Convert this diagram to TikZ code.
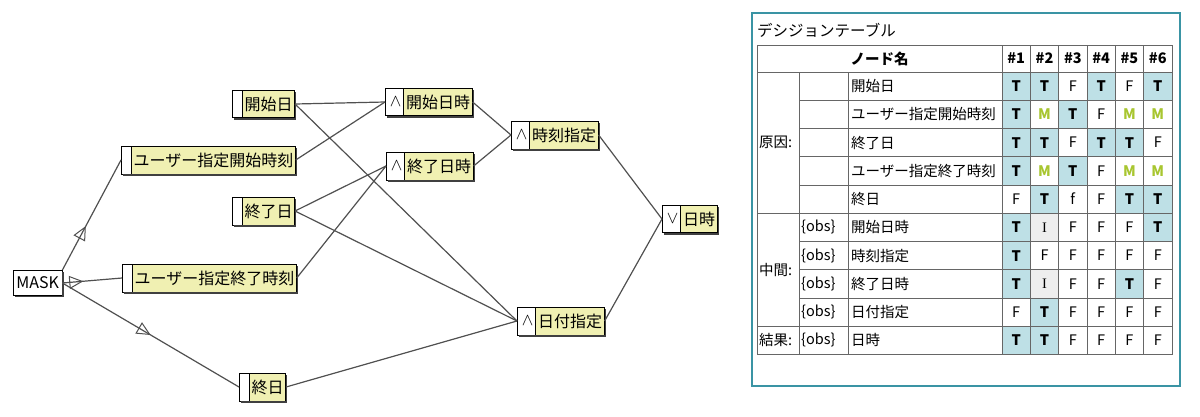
\documentclass[tikz,border=0pt]{standalone}
\usepackage{fontspec}
\setmainfont{Noto Sans CJK JP}
\setsansfont{Noto Sans CJK JP}
\newfontfamily\serifI{Liberation Serif}
\usetikzlibrary{shapes.multipart,decorations.markings,arrows.meta}

\definecolor{nodeyellow}{RGB}{240,240,178}
\definecolor{wiregray}{RGB}{80,80,80}
\definecolor{celltrue}{RGB}{190,224,230}
\definecolor{cellind}{RGB}{238,238,238}
\definecolor{maskgreen}{RGB}{168,198,48}
\definecolor{frameteal}{RGB}{58,148,164}

\newcommand\nodefont{\fontsize{16}{18}\selectfont}
\newcommand\tabfont{\fontsize{14.5}{16}\selectfont}

\def\colw{28.33}
\def\rowh{28.25}

% dark edge along the bottom and right of a box
\newcommand\boxshadow[1]{%
	\draw[shade line] ([xshift=2pt,yshift=-0.6pt]#1.south west) -- ([xshift=0.6pt,yshift=-0.6pt]#1.south east) -- ([xshift=0.6pt,yshift=-2pt]#1.north east);}

% one table cell per value code
\newcommand\cellT[2]{%
	\fill[celltrue] ({1002+(#1-1)*\colw},{72+(#2-1)*\rowh}) rectangle ++(\colw,\rowh);
	\node[val, font=\tabfont\bfseries] at ({1002+(#1-0.5)*\colw},{72+(#2-0.5)*\rowh}) {T};}
\newcommand\cellF[2]{%
	\node[val] at ({1002+(#1-0.5)*\colw},{72+(#2-0.5)*\rowh}) {F};}
\newcommand\cellf[2]{%
	\node[val] at ({1002+(#1-0.5)*\colw},{72+(#2-0.5)*\rowh}) {f};}
\newcommand\cellM[2]{%
	\node[val, text=maskgreen, font=\tabfont\bfseries] at ({1002+(#1-0.5)*\colw},{72+(#2-0.5)*\rowh}) {M};}
\newcommand\cellI[2]{%
	\fill[cellind] ({1002+(#1-1)*\colw},{72+(#2-1)*\rowh}) rectangle ++(\colw,\rowh);
	\node[val, font=\tabfont\serifI] at ({1002+(#1-0.5)*\colw},{72+(#2-0.5)*\rowh}) {I};}

\begin{document}
\begin{tikzpicture}[x=1pt,y=-1pt]
	\tikzstyle{box}=[draw=black, line width=0.8pt, inner xsep=2pt, inner ysep=6.5pt, font=\nodefont]
	\tikzstyle{split box}=[box, anchor=west, rectangle split, rectangle split horizontal, rectangle split parts=2, rectangle split part fill={white,nodeyellow}]
	\tikzstyle{cause}=[split box]
	\tikzstyle{gate}=[split box]
	\tikzstyle{mask node}=[box, fill=white, anchor=west, inner xsep=3pt]
	\tikzstyle{shade line}=[draw=black!75, line width=1.4pt]
	\tikzstyle{wire}=[draw=wiregray, line width=1.2pt]
	\tikzset{mask edge/.style={wire, postaction={decorate}, decoration={markings, mark=at position #1 with {\arrow[wiregray, line width=1pt]{Triangle[open, length=14pt, width=13pt]}}}}}
	\tikzstyle{grid}=[draw=black!60, line width=0.8pt]
	\tikzstyle{val}=[inner sep=0pt, font=\tabfont]
	\tikzstyle{cell text}=[inner sep=0pt, font=\tabfont, anchor=west]
	
	\useasboundingbox (0,0) rectangle (1200,416);
	
	% Draw the mask node
	\node[mask node] (mask) at (13,283) {MASK};
	
	% Draw the cause nodes
	\foreach \y/\x/\t [count=\n] in {104/232/開始日, 160/121/ユーザー指定開始時刻, 211/232/終了日, 278/122/ユーザー指定終了時刻, 387/239/終日}
	\node[cause] (C-\n) at (\x,\y) {\hspace{3.5pt}\nodepart{two}\t};
	
	% Draw the and/or nodes
	\foreach \y/\x/\t [count=\n] in {102/385/開始日時, 166/386/終了日時, 135/511/時刻指定, 321/517/日付指定}
	\node[gate] (G-\n) at (\x,\y) {\hspace{2.5pt}$\wedge$\hspace{2.5pt}\nodepart{two}\t};
	\node[gate] (G-5) at (662,219) {\hspace{2.5pt}$\vee$\hspace{2.5pt}\nodepart{two}日時};
	
	% Shadows of all boxes
	\boxshadow{mask}
	\foreach \n in {1,...,5}{
		\boxshadow{C-\n}
		\boxshadow{G-\n}
	}
	
	% Connect the mask to its three causes
	\draw[mask edge=0.4] (mask.north east) -- (C-2.west);
	\draw[mask edge=0.35] (mask.east) -- (C-4.west);
	\draw[mask edge=0.5] (mask.east) -- (C-5.west);
	
	% Connect causes with the and nodes
	\foreach \s/\d in {1/1,2/1,3/2,4/2,1/4,3/4,5/4}
	\draw[wire] (C-\s.east) -- (G-\d.west);
	% Connect the and nodes up to the result
	\foreach \s/\d in {1/3,2/3,3/5,4/5}
	\draw[wire] (G-\s.east) -- (G-\d.west);
	
	% Decision table frame and title
	\draw[draw=frameteal, line width=2pt, fill=white] (752,13) rectangle (1180,386);
	\node[cell text, font=\fontsize{15.5}{17}\selectfont] (title) at (757,30) {デシジョンテーブル};
	
	% Fill in the values
	\foreach \vals [count=\r] in {{T,T,F,T,F,T},{T,M,T,F,M,M},{T,T,F,T,T,F},{T,M,T,F,M,M},{F,T,f,F,T,T},{T,I,F,F,F,T},{T,F,F,F,F,F},{T,I,F,F,T,F},{F,T,F,F,F,F},{T,T,F,F,F,F}}{
		\foreach \v [count=\c] in \vals {\csname cell\v\endcsname{\c}{\r}}
	}
	
	% Grid of the table
	\draw[grid] (757,45) rectangle (1172,354.5);
	\draw[grid] (757,72) -- (1172,72);
	\foreach \r in {1,2,3,4,6,7,8}
	\draw[grid] (799,{72+\r*\rowh}) -- (1172,{72+\r*\rowh});
	\foreach \r in {5,9}
	\draw[grid] (757,{72+\r*\rowh}) -- (1172,{72+\r*\rowh});
	\foreach \x in {799,848}
	\draw[grid] (\x,72) -- (\x,354.5);
	\foreach \c in {0,...,5}
	\draw[grid] ({1002+\c*\colw},45) -- ({1002+\c*\colw},354.5);
	
	% Header
	\node[val, font=\tabfont\bfseries] (head) at (879.5,58.5) {ノード名};
	\foreach \c in {1,...,6}
	\node[val, font=\tabfont\bfseries] (H-\c) at ({1002+(\c-0.5)*\colw},58.5) {\#\c};
	
	% Row names
	\foreach \t [count=\r] in {開始日,ユーザー指定開始時刻,終了日,ユーザー指定終了時刻,終日,開始日時,時刻指定,終了日時,日付指定,日時}
	\node[cell text] (R-\r) at (851,{72+(\r-0.5)*\rowh}) {\t};
	\foreach \r in {6,...,10}
	\node[cell text] (obs-\r) at (801,{72+(\r-0.5)*\rowh}) {\{obs\}};
	\node[cell text] (cause) at (759,142.6) {原因:};
	\node[cell text] (mid) at (759,269.75) {中間:};
	\node[cell text] (effect) at (759,340.4) {結果:};
	
\end{tikzpicture}
\end{document}
